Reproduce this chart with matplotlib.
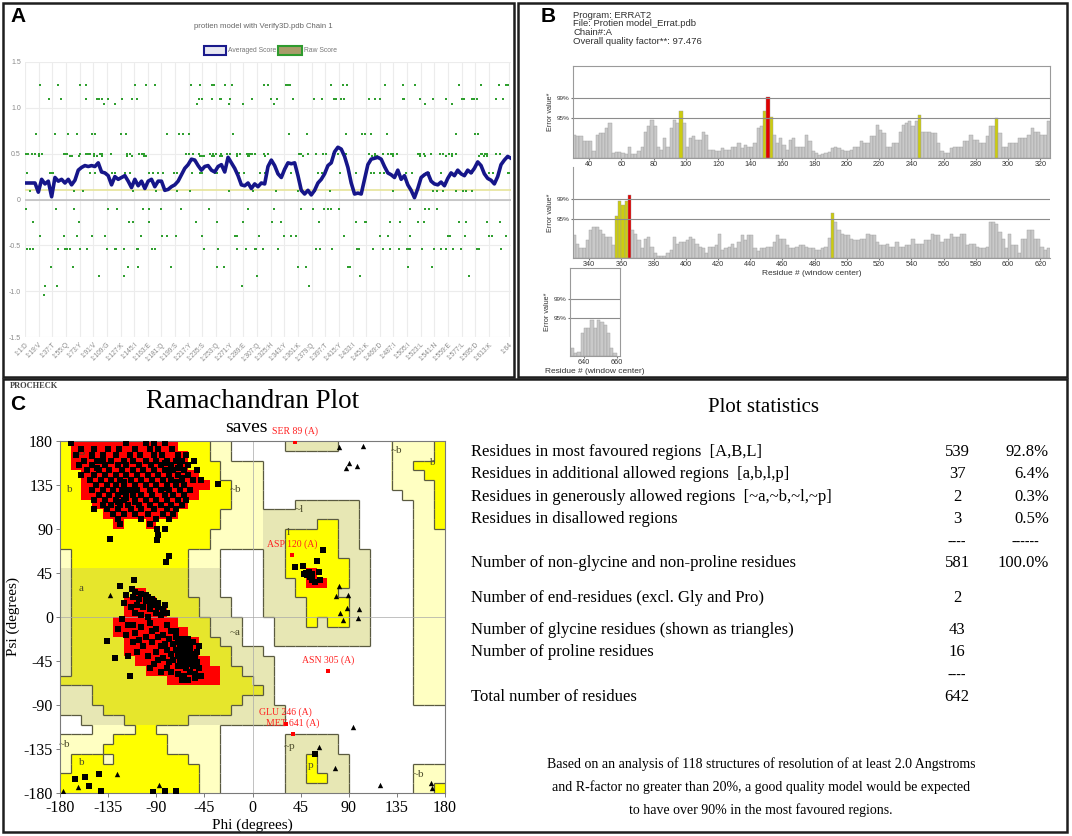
import numpy as np
import matplotlib.pyplot as plt
from matplotlib.patches import Rectangle
from matplotlib.collections import LineCollection
from matplotlib.colors import to_rgb

plt.rcParams['axes.unicode_minus'] = False
SERIF = 'Liberation Serif'
SANS = 'Liberation Sans'
W, H = 1072, 836

# ---------------- A : Verify3D ----------------
a_tick_labels = ["1:1:D", "1:19:V", "1:37:T", "1:55:Q", "1:73:Y", "1:91:V", "1:109:G", "1:127:K",
                 "1:145:I", "1:163:E", "1:181:Q", "1:199:S", "1:217:Y", "1:235:S", "1:253:Q", "1:271:Y",
                 "1:289:E", "1:307:Q", "1:325:H", "1:343:Y", "1:361:K", "1:379:Q", "1:397:T", "1:415:Y",
                 "1:433:I", "1:451:K", "1:469:D", "1:487:I", "1:505:I", "1:523:L", "1:541:N", "1:559:E",
                 "1:577:L", "1:595:D", "1:613:K", "1:64"]
a_tick_res = [1, 19, 37, 55, 73, 91, 109, 127, 145, 163, 181, 199, 217, 235, 253, 271, 289, 307,
              325, 343, 361, 379, 397, 415, 433, 451, 469, 487, 505, 523, 541, 559, 577, 595, 613, 640]

avg_score = [.18, .18, .18, .18, .08, .22, .17, .20, .03, .24,
             .20, .22, .18, .22, .16, .21, .32, .35, .37, .36,
             .37, .36, .40, .30, .29, .26, .16, .25, .22, .24,
             .26, .20, .13, .22, .15, .20, .12, .20, .22, .14,
             .20, .20, .10, .11, .14, .16, .20, .27, .34, .38,
             .44, .43, .37, .32, .36, .37, .32, .30, .36, .38,
             .30, .46, .40, .34, .26, .16, .15, .18, .12, .17,
             .14, .18, .17, .36, .43, .37, .28, .24, .33, .40,
             .39, .40, .26, .10, .06, .10, .05, .10, .18, .22,
             .28, .37, .40, .52, .57, .55, .47, .35, .18, .06,
             .07, .06, .22, .38, .44, .45, .46, .44, .36, .29,
             .27, .24, .32, .22, .26, .16, .10, .02, .12, .24,
             .27, .29, .20, .17, .16, .19, .15, .23, .29, .26,
             .32, .28, .26, .32, .29, .34, .41, .37, .28, .23,
             .21, .17, .25, .38, .43, .47, .45]

raw_levels = [1.25, 1.10, 1.04, 0.71, 0.50, 0.47, 0.29, 0.09, -0.10, -0.25, -0.40, -0.54,
              -0.74, -0.83, -0.94, -1.04]
raw_res = [
    [21, 45, 73, 81, 146, 160, 172, 220, 232, 247, 250, 265, 274, 316, 322, 345, 348, 351, 404, 420,
     426, 476, 499, 515, 573, 602, 626, 635, 638],
    [33, 49, 82, 96, 99, 102, 111, 129, 142, 149, 231, 234, 248, 258, 260, 271, 300, 325, 333, 354,
     382, 393, 409, 411, 418, 422, 455, 462, 469, 499, 501, 522, 539, 556, 577, 580, 590, 593, 597,
     622, 632],
    [105, 120, 228, 270, 289, 329, 529, 564],
    [16, 41, 58, 69, 89, 93, 127, 134, 188, 204, 209, 217, 275, 349, 373, 425, 446, 449, 458, 478,
     570, 595, 598],
    [2, 5, 10, 14, 20, 23, 52, 54, 56, 73, 81, 84, 87, 92, 100, 102, 115, 135, 139, 152, 155, 158,
     214, 217, 222, 231, 245, 249, 253, 260, 267, 271, 281, 284, 294, 296, 298, 300, 305, 316, 322,
     363, 365, 374, 385, 394, 398, 407, 414, 425, 455, 463, 473, 480, 484, 486, 491, 519, 522, 527,
     537, 548, 552, 560, 564, 570, 602, 604, 608, 611, 622, 627],
    [20, 60, 63, 72, 92, 96, 102, 135, 142, 158, 160, 232, 234, 237, 247, 250, 258, 261, 280, 295,
     296, 318, 368, 459, 462, 465, 486, 522, 528, 556, 564, 600, 606, 610],
    [3, 34, 36, 38, 70, 87, 93, 108, 116, 120, 133, 139, 164, 170, 177, 183, 197, 201, 209, 221, 232,
     235, 251, 254, 283, 290, 311, 317, 341, 352, 387, 393, 416, 428, 437, 458, 461, 469, 475, 494,
     503, 512, 530, 534, 550, 574, 582, 591, 613, 618, 638, 640],
    [8, 66, 77, 144, 174, 201, 218, 270, 302, 332, 361, 383, 403, 486, 512, 539, 545, 552, 570, 579,
     583, 591],
    [2, 42, 66, 111, 123, 156, 164, 181, 207, 244, 295, 330, 365, 381, 396, 401, 405, 415, 509, 528,
     534, 545],
    [11, 72, 138, 143, 164, 226, 254, 289, 327, 338, 389, 438, 449, 451, 482, 495, 519, 527, 574, 583,
     611, 627],
    [21, 52, 70, 89, 106, 154, 182, 188, 200, 234, 278, 281, 310, 342, 352, 359, 422, 469, 480, 509,
     559, 562, 581, 613, 617, 635],
    [4, 7, 12, 45, 54, 56, 61, 73, 83, 109, 120, 121, 131, 149, 150, 168, 172, 237, 256, 280, 292,
     304, 306, 315, 335, 385, 390, 406, 439, 441, 460, 473, 482, 494, 505, 506, 509, 525, 541, 550,
     556, 565, 576, 597, 600, 629],
    [35, 64, 137, 150, 194, 254, 263, 361, 371, 427, 429, 506, 538],
    [99, 132, 307, 443, 586],
    [27, 43, 287, 376],
    [26],
]

# ---------------- B : ERRAT ----------------
errat_info = ["Program: ERRAT2", "File: Protien model_Errat.pdb", "Chain#:A",
              "Overall quality factor**: 97.476"]
errat_top_start, errat_mid_start, errat_bot_start = 30, 330, 632
errat_top = [6.7, 6.2, 6.2, 4.8, 4.8, 4.8, 1.9, 6.7, 7.2, 7.2, 8.6, 10.0, 1.5, 1.6, 1.6, 1.4, 1.2, 3.3, 1.2, 1.2,
             1.9, 3.3, 7.6, 9.1, 11.0, 9.1, 3.3, 2.4, 5.7, 3.3, 8.6, 11.0, 10.0, 13.4, 10.0, 3.3, 5.7, 6.2, 5.3, 5.3,
             7.6, 6.7, 2.4, 2.4, 1.9, 1.9, 2.9, 2.4, 2.4, 3.3, 3.3, 4.3, 2.9, 3.8, 3.3, 3.3, 4.3, 8.6, 9.1, 13.4,
             17.4, 11.7, 6.7, 4.3, 5.7, 3.8, 2.4, 5.3, 5.7, 3.3, 3.3, 3.3, 6.7, 4.8, 1.9, 1.4, 1.0, 1.2, 1.4, 1.6,
             2.9, 3.3, 2.9, 2.4, 1.9, 1.9, 2.4, 3.3, 3.3, 4.8, 4.3, 4.3, 6.2, 6.2, 9.6, 8.1, 7.2, 3.3, 3.3, 4.3,
             4.3, 7.6, 9.6, 10.0, 10.5, 9.1, 10.5, 12.4, 7.6, 7.6, 7.6, 7.2, 7.2, 4.3, 1.9, 1.4, 1.4, 2.9, 3.3, 3.3,
             3.3, 4.8, 4.8, 6.7, 5.3, 5.3, 4.3, 4.3, 6.2, 9.1, 9.1, 11.5, 7.2, 3.3, 3.3, 4.3, 4.3, 4.3, 5.7, 5.7,
             5.7, 6.7, 8.6, 7.6, 7.6, 6.7, 6.7, 10.5]
errat_mid = [6.6, 4.2, 2.8, 2.8, 5.2, 8.0, 8.9, 8.9, 8.0, 7.1, 6.1, 6.1, 3.8, 12.2, 16.5, 15.5, 16.6, 18.3, 8.0, 7.1,
             5.2, 2.8, 5.6, 6.1, 3.3, 1.4, 0.5, 0.5, 0.5, 1.4, 2.4, 6.1, 4.2, 4.7, 4.7, 5.2, 6.1, 5.6, 4.2, 3.3,
             2.8, 1.4, 3.3, 3.3, 3.8, 7.1, 2.4, 2.8, 3.3, 4.2, 2.8, 4.7, 6.6, 5.2, 6.6, 6.6, 2.8, 1.9, 2.8, 2.8,
             3.3, 3.3, 4.7, 6.6, 5.6, 5.6, 3.8, 2.8, 2.8, 3.3, 3.8, 3.8, 3.3, 2.8, 2.8, 2.4, 2.4, 2.8, 3.3, 5.9,
             13.1, 10.3, 8.0, 7.1, 6.6, 6.6, 5.6, 5.2, 5.2, 5.6, 5.6, 7.1, 6.6, 6.6, 4.7, 3.8, 3.8, 4.2, 3.3, 3.3,
             4.7, 3.3, 3.3, 3.8, 3.8, 5.6, 4.2, 4.2, 4.2, 5.2, 5.2, 7.1, 6.6, 6.6, 4.7, 5.6, 5.6, 7.1, 6.1, 6.1,
             7.1, 7.1, 3.8, 4.2, 4.2, 3.3, 2.8, 2.8, 3.3, 10.3, 10.3, 10.0, 7.5, 5.6, 2.8, 7.1, 3.8, 3.8, 1.4, 5.6,
             5.6, 8.0, 8.0, 5.6, 5.6, 3.3, 2.4, 2.8]
errat_bot = [2.3, 1.0, 1.2, 6.8, 8.3, 8.5, 10.9, 8.3, 10.7, 10.3, 9.3, 6.8, 2.3, 1.0]
limit95, limit99 = 11.36, 17.19

# ---------------- C : Ramachandran ----------------
# 10-degree cells, rows from psi 180 down to -180, runs from phi -180 to 180
# R core, Y allowed, y allowed (shaded band), C generous, K generous (shaded), W disallowed
rama_regions = [
    "Y1 R10 Y3 C2 W5 K5 W5 C4 Y1",
    "Y1 R11 Y2 C2 W15 C4 Y1",
    "Y1 R11 Y3 C4 W12 C2 Y3",
    "Y2 R11 Y2 C4 W12 C3 Y2",
    "Y2 R12 Y2 C3 W12 C4 Y1",
    "Y2 R11 Y3 C3 W13 C3 Y1",
    "Y3 R9 Y4 C3 W3 K6 W5 C2 Y1",
    "Y4 R7 Y4 C4 K9 W5 C2 Y1",
    "Y5 R1 Y2 R1 Y6 C4 K5 Y2 K2 W5 C2 Y1",
    "Y14 C5 K2 Y5 K2 W5 C3",
    "Y14 C5 K2 Y5 K2 W5 C3",
    "C1 Y11 C3 W4 K2 Y5 K3 W4 C3",
    "C1 Y11 C3 W4 K2 Y6 K2 W4 C3",
    "K1 y11 K3 W4 K2 Y2 R1 Y3 K2 W4 C3",
    "K1 y11 K3 W4 K3 Y1 R2 Y2 K2 W4 C3",
    "K1 y6 R1 y4 K3 W4 K3 Y4 K3 W4 C3",
    "K1 y5 R3 y4 K3 W3 K4 Y4 K2 W4 C3",
    "K1 y5 R4 y3 K3 W3 K4 Y4 K2 W4 C3",
    "K1 y4 R6 y3 K3 W3 K3 Y1 K1 Y2 K2 W4 C3",
    "K1 y4 R7 y2 K3 W3 K9 W4 C3",
    "K1 y5 R7 y2 K2 W3 K9 W4 C3",
    "K1 y5 R7 y3 K3 W14 C3",
    "K1 y6 R7 y2 K4 W13 C3",
    "K1 y7 R7 y2 K3 W13 C3",
    "y10 R5 y3 K2 W13 C3",
    "K3 y16 K1 W13 C3",
    "K3 y14 K3 W13 C3",
    "K4 y12 K5 W15",
    "W2 K4 y6 K9 W15",
    "W3 C4 Y2 C6 W21",
    "C5 Y5 C5 W6 K5 W10",
    "C4 Y6 C5 W6 K5 W10",
    "C1 Y3 C1 Y7 C3 W6 K2 Y1 K3 W9",
    "C1 Y12 C2 W6 K2 Y1 K3 W6 C3",
    "Y13 C2 W6 K2 Y2 K2 W6 C3",
    "Y13 C2 W6 K6 W6 C2 Y1",
]
region_labels = [("B", -160, 168), ("b", -171, 130), ("a", -160, 29), ("~b", -16, 130), ("~a", -16, -16),
                 ("~l", 44, 110), ("l", 34, 86), ("~p", 35, -132), ("p", 54, -152), ("~b", 135, 170),
                 ("b", 169, 158), ("~b", -176, -130), ("b", -160, -149), ("~b", 155, -161)]

nongly_pts = [
    # beta region
    (-170, 178), (-118, 178), (-100, 178), (-92, 178), (-82, 178),
    (-160, 172), (-148, 172), (-135, 172), (-125, 172), (-110, 172), (-96, 172), (-88, 172), (-75, 172),
    (-165, 166), (-150, 166), (-140, 166), (-128, 166), (-115, 166), (-105, 166), (-92, 166), (-85, 166),
    (-70, 166), (-62, 166),
    (-158, 160), (-145, 160), (-132, 160), (-120, 160), (-112, 160), (-100, 160), (-90, 160), (-80, 160),
    (-72, 160), (-66, 160), (-55, 160),
    (-162, 155), (-150, 155), (-138, 155), (-126, 155), (-118, 155), (-106, 155), (-95, 155), (-86, 155),
    (-76, 155), (-68, 155), (-60, 155),
    (-155, 150), (-144, 150), (-134, 150), (-122, 150), (-112, 150), (-102, 150), (-92, 150), (-82, 150),
    (-74, 150), (-64, 150), (-52, 150),
    (-160, 145), (-148, 145), (-138, 145), (-128, 145), (-118, 145), (-108, 145), (-98, 145), (-88, 145),
    (-78, 145), (-70, 145), (-60, 145),
    (-152, 140), (-142, 140), (-132, 140), (-124, 140), (-114, 140), (-104, 140), (-94, 140), (-84, 140),
    (-76, 140), (-66, 140), (-56, 140), (-48, 140),
    (-146, 135), (-136, 135), (-128, 135), (-120, 135), (-110, 135), (-100, 135), (-90, 135), (-80, 135),
    (-72, 135), (-64, 135),
    (-150, 130), (-140, 130), (-130, 130), (-122, 130), (-116, 130), (-108, 130), (-96, 130), (-86, 130),
    (-78, 130), (-68, 130), (-58, 130),
    (-144, 125), (-134, 125), (-126, 125), (-118, 125), (-112, 125), (-104, 125), (-94, 125), (-82, 125),
    (-74, 125), (-64, 125),
    (-148, 120), (-138, 120), (-128, 120), (-120, 120), (-110, 120), (-100, 120), (-90, 120), (-80, 120),
    (-70, 120), (-62, 120),
    (-140, 115), (-132, 115), (-124, 115), (-116, 115), (-106, 115), (-96, 115), (-86, 115), (-76, 115),
    (-66, 115),
    (-148, 110), (-136, 110), (-126, 110), (-114, 110), (-104, 110), (-92, 110), (-80, 110), (-72, 110),
    (-130, 105), (-120, 105), (-110, 105), (-98, 105), (-84, 105), (-74, 105),
    (-126, 100), (-104, 100), (-90, 100), (-78, 100), (-124, 95), (-96, 95),
    (-122, 128), (-118, 122), (-114, 130), (-126, 118), (-120, 138), (-110, 118), (-78, 148), (-72, 138),
    (-80, 132), (-76, 152), (-70, 152), (-66, 142), (-82, 157), (-140, 160), (-145, 152), (-150, 165),
    # alpha region
    (-118, 22), (-112, 20), (-106, 18), (-100, 16), (-96, 14), (-92, 12), (-88, 10), (-84, 8), (-80, 4),
    (-108, 12), (-102, 10), (-96, 8), (-90, 4), (-86, 2), (-110, 26), (-104, 24), (-98, 20), (-94, 18),
    (-100, 22), (-92, 16), (-88, 14), (-82, 12), (-120, 14), (-114, 10), (-110, 4), (-104, 2), (-98, 0),
    (-122, -2), (-116, -8), (-126, -12), (-118, -18), (-110, -16), (-104, -10), (-96, -6), (-90, -12),
    (-84, -18), (-80, -8), (-76, -14), (-72, -20), (-70, -26), (-66, -30), (-64, -34), (-62, -38),
    (-60, -42), (-58, -46), (-56, -50), (-68, -36), (-66, -40), (-64, -44), (-60, -36), (-58, -32),
    (-56, -38), (-54, -42), (-52, -46), (-70, -40), (-68, -46), (-66, -50), (-62, -52), (-58, -56),
    (-72, -34), (-74, -28), (-76, -38), (-78, -46), (-80, -52), (-84, -42), (-86, -30), (-90, -36),
    (-94, -26), (-98, -40), (-102, -30), (-108, -36), (-112, -26), (-116, -40), (-92, -48), (-86, -56),
    (-76, -56), (-70, -58), (-64, -60), (-54, -58), (-50, -52), (-52, -36), (-50, -30), (-56, -26),
    (-60, -22), (-64, -24), (-62, -30), (-60, -28), (-68, -28), (-66, -22), (-72, -14), (-78, -22),
    (-82, -28), (-88, -20), (-94, -14), (-100, -20), (-106, -24), (-112, -8), (-62, -44), (-60, -48),
    (-64, -40), (-66, -36), (-58, -40), (-56, -44), (-70, -50), (-74, -44), (-48, -60), (-54, -62),
    (-60, -64), (-66, -64), (-80, -34), (-88, -44), (-96, -52),
    # scattered
    (-32, 136), (-133, 80), (-78, 62), (-81, 56), (-89, 90), (-82, 90), (-88, 84), (-89, 79),
    (-136, -25), (-129, -42), (-115, -60), (-124, 32), (-111, 38), (-113, 29),
    (-166, -166), (-157, -164), (-144, -161), (-153, -173), (-142, -178), (-93, -179), (-82, -178),
    (-72, -178),
    # left-handed region
    (40, 51), (47, 52), (60, 57), (66, 69), (48, 44), (51, 43), (54, 41), (56, 38), (58, 36), (53, 46),
    (62, 46), (50, 45), (63, 38), (56, 44), (58, -140),
]
gly_pts = [(81, 174), (103, 175), (90, 158), (87, 152), (98, 154), (94, -112), (77, -154), (62, -133),
           (119, -172), (167, -170), (168, -175), (-133, 22), (-127, -161), (-163, -174), (-177, -178),
           (-87, -172), (89, 22), (100, 8), (99, -1), (85, -3), (78, 21), (81, 32), (88, 9), (82, 4)]
outlier_names = ["SER 89 (A)", "ASP 120 (A)", "ASN 305 (A)", "GLU 246 (A)", "MET 641 (A)"]
outlier_phi = [40, 37, 71, 31, 38]
outlier_psi = [179, 63, -55, -109, -120]

stats_labels = ["Residues in most favoured regions  [A,B,L]",
                "Residues in additional allowed regions  [a,b,l,p]",
                "Residues in generously allowed regions  [~a,~b,~l,~p]",
                "Residues in disallowed regions",
                "Number of non-glycine and non-proline residues",
                "Number of end-residues (excl. Gly and Pro)",
                "Number of glycine residues (shown as triangles)",
                "Number of proline residues",
                "Total number of residues"]
stats_counts = ["539", "37", "2", "3", "581", "2", "43", "16", "642"]
stats_pcts = ["92.8%", "6.4%", "0.3%", "0.5%", "100.0%", "", "", "", ""]
stats_note = ["Based on an analysis of 118 structures of resolution of at least 2.0 Angstroms",
              "and R-factor no greater than 20%, a good quality model would be expected",
              "to have over 90% in the most favoured regions."]


def px_box(x0, y0, x1, y1):
    return [x0 / W, 1 - y1 / H, (x1 - x0) / W, (y1 - y0) / H]


fig = plt.figure(figsize=(W / 100, H / 100), dpi=100)

# ---- panel A ----
axA = fig.add_axes(px_box(25, 62, 511, 337))
axA.set_xlim(1, 642)
axA.set_ylim(-1.5, 1.5)
for s in axA.spines.values():
    s.set_visible(False)
axA.set_xticks(a_tick_res)
axA.set_xticklabels(a_tick_labels, rotation=45, ha='right', va='top', rotation_mode='anchor',
                    fontsize=4.8, color='#8a8a8a', family=SANS)
axA.set_yticks([-1.5, -1.0, -0.5, 0, 0.5, 1.0, 1.5])
axA.set_yticklabels(['-1.5', '-1.0', '-0.5', '0', '0.5', '1.0', '1.5'], fontsize=5, color='#8a8a8a',
                    family=SANS)
axA.tick_params(length=0, pad=3)
axA.grid(True, color='#ececec', lw=0.8)
axA.set_axisbelow(True)
axA.axhline(0, color='#bdbdbd', lw=1.1, zorder=1)
axA.axhline(0.1, color='#e6e49a', lw=1.2, zorder=1)
for lvl, xs in zip(raw_levels, raw_res):
    axA.scatter(xs, [lvl] * len(xs), s=4, marker='s', color='#2f9f2f', linewidths=0, zorder=2)
avg_res = np.linspace(1, 642, len(avg_score))
axA.plot(avg_res, avg_score, color='#16168a', lw=2.6, zorder=3)

# ---- panel B ----
def errat_strip(rect, start, vals, xlim, xticks, full_box):
    ax = fig.add_axes(px_box(*rect))
    xs = start + 1 + 2 * np.arange(len(vals))
    cols = ['#e00000' if v >= limit99 else '#cccc10' if v >= limit95 else '#c9c9c9' for v in vals]
    ax.bar(xs, vals, width=2, color=cols, edgecolor='#9c9c9c', linewidth=0.3)
    ax.axhline(limit95, color='#8c8c8c', lw=0.8)
    ax.axhline(limit99, color='#8c8c8c', lw=0.8)
    ax.set_xlim(*xlim)
    ax.set_ylim(0, 26.4)
    ax.set_yticks([limit95, limit99])
    ax.set_yticklabels(['95%', '99%'], fontsize=4.6, family=SANS, color='#333333')
    ax.set_xticks(xticks)
    ax.set_xticklabels([str(t) for t in xticks], fontsize=5.2, family=SANS, color='#333333')
    ax.tick_params(length=1.5, pad=1, color='#777777')
    ax.set_ylabel('Error value*', fontsize=5.2, family=SANS, labelpad=2, color='#333333')
    for k, s in ax.spines.items():
        s.set_color('#9a9a9a')
        s.set_linewidth(0.8)
        if not full_box and k in ('top', 'right'):
            s.set_visible(False)
    return ax


errat_strip((573, 66, 1050, 158), errat_top_start, errat_top, (30, 326), list(range(40, 321, 20)), True)
axM = errat_strip((573, 167, 1050, 258), errat_mid_start, errat_mid, (330, 626), list(range(340, 621, 20)), False)
axM.set_xlabel('Residue # (window center)', fontsize=6, family=SANS, labelpad=1, color='#333333')
axL = errat_strip((570, 268, 620, 356), errat_bot_start, errat_bot, (631.5, 662), [640, 660], True)
axL.set_xlabel('Residue # (window center)', fontsize=6, family=SANS, labelpad=1, color='#333333')

# ---- panel C : Ramachandran ----
code_colors = {'R': '#ff0000', 'Y': '#ffff00', 'y': '#e6e62c', 'C': '#ffffc2', 'K': '#e7e7b4', 'W': '#ffffff'}
code_level = {'R': 3, 'Y': 2, 'y': 2, 'C': 1, 'K': 1, 'W': 0}
grid = []
for row in rama_regions:
    cells = []
    for tok in row.split():
        cells += [tok[0]] * int(tok[1:])
    grid.append(cells[:36])
rgb = np.array([[to_rgb(code_colors[c]) for c in r] for r in grid])

axR = fig.add_axes(px_box(60, 441, 445, 793))
axR.imshow(rgb, extent=(-180, 180, -180, 180), aspect='auto', interpolation='nearest', zorder=0)
segs = []
n = len(grid)
for r in range(n):
    for c in range(36):
        a = code_level[grid[r][c]]
        if c < 35:
            b = code_level[grid[r][c + 1]]
            if a != b and max(a, b) < 3:
                x = -170 + 10 * c
                segs.append([(x, 170 - 10 * r), (x, 180 - 10 * r)])
        if r < n - 1:
            b = code_level[grid[r + 1][c]]
            if a != b and max(a, b) < 3:
                y = 170 - 10 * r
                segs.append([(-180 + 10 * c, y), (-170 + 10 * c, y)])
axR.add_collection(LineCollection(segs, colors='#5a5a40', linewidths=0.9, zorder=1))
axR.axhline(0, color='#a8a8a8', lw=0.5, zorder=1.5)
axR.axvline(0, color='#a8a8a8', lw=0.5, zorder=1.5)
for txt, ph, ps in region_labels:
    axR.text(ph, ps, txt, fontsize=8, family=SERIF, color='#4a4a2a', ha='center', va='center', zorder=2)

axR.scatter([p[0] for p in nongly_pts], [p[1] for p in nongly_pts], s=14, marker='s', color='black',
            linewidths=0, zorder=3)
axR.scatter([p[0] for p in gly_pts], [p[1] for p in gly_pts], s=15, marker='^', color='black',
            linewidths=0, zorder=3)
axR.scatter(outlier_phi, outlier_psi, s=12, marker='s', color='#ff0000', linewidths=0, zorder=4)
for name, ph, ps in zip(outlier_names, outlier_phi, outlier_psi):
    axR.annotate(name, (ph, ps), xytext=(0, 4.5), textcoords='offset points', ha='center', va='bottom',
                 fontsize=7, family=SERIF, color='#ff2020', zorder=5, annotation_clip=False)

axR.set_xlim(-180, 180)
axR.set_ylim(-180, 180)
ticks = list(range(-180, 181, 45))
axR.set_xticks(ticks)
axR.set_yticks(ticks)
axR.set_xticklabels([str(t) for t in ticks], fontsize=11.5, family=SERIF)
axR.set_yticklabels([str(t) for t in ticks], fontsize=11.5, family=SERIF)
axR.tick_params(length=3, width=0.6, color='#666666', pad=2)
for s in axR.spines.values():
    s.set_color('#7a7a7a')
    s.set_linewidth(0.8)
axR.set_xlabel('Phi (degrees)', fontsize=11, family=SERIF, labelpad=2)
axR.set_ylabel('Psi (degrees)', fontsize=11, family=SERIF, labelpad=3)

# ---- overlay : frames and free text ----
ov = fig.add_axes([0, 0, 1, 1], zorder=10)
ov.set_xlim(0, W)
ov.set_ylim(H, 0)
ov.axis('off')
for (x0, y0, x1, y1) in [(3, 3, 514, 377), (518, 3, 1067, 377), (3, 379, 1067, 832)]:
    ov.add_patch(Rectangle((x0, y0), x1 - x0, y1 - y0, fill=False, ec='#1e1e1e', lw=1.8))
for lab, x, y in [('A', 10, 17), ('B', 541, 17), ('C', 10, 405)]:
    ov.text(x, y, lab, fontsize=15, weight='bold', family=SANS, va='center', ha='left')

ov.text(263, 26, 'protien model with Verify3D.pdb Chain 1', fontsize=5.6, color='#666666', family=SANS,
        ha='center', va='center')
ov.add_patch(Rectangle((204, 46), 22, 9, fc='#e8e8f2', ec='#1a1a8c', lw=1.5))
ov.text(228, 50.5, 'Averaged Score', fontsize=4.9, color='#777777', family=SANS, va='center')
ov.add_patch(Rectangle((278, 46), 24, 9, fc='#a89c6a', ec='#2e9b2e', lw=1.5))
ov.text(304, 50.5, 'Raw Score', fontsize=4.9, color='#777777', family=SANS, va='center')

for i, line in enumerate(errat_info):
    ov.text(573, 15 + 8.7 * i, line, fontsize=6.8, family=SANS, color='#303030', va='center')

ov.text(10, 386, 'PROCHECK', fontsize=6, weight='bold', family=SERIF, color='#444444', va='center')
ov.text(253, 402, 'Ramachandran Plot', fontsize=19.5, family=SERIF, ha='center', va='center')
ov.text(246, 428, 'saves', fontsize=14, family=SERIF, ha='center', va='center')

ov.text(763, 408, 'Plot statistics', fontsize=15, family=SERIF, ha='center', va='center')
row_y = [452, 474, 497, 519, 563, 598, 630, 652, 697]
for y, lab, cnt, pct in zip(row_y, stats_labels, stats_counts, stats_pcts):
    ov.text(471, y, lab, fontsize=12, family=SERIF, va='center')
    ov.text(957, y, cnt, fontsize=12, family=SERIF, va='center', ha='center')
    if pct:
        ov.text(1049, y, pct, fontsize=12, family=SERIF, va='center', ha='right')
ov.text(957, 542, '----', fontsize=10, family=SERIF, va='center', ha='center')
ov.text(1025, 542, '------', fontsize=10, family=SERIF, va='center', ha='center')
ov.text(957, 675, '----', fontsize=10, family=SERIF, va='center', ha='center')
for i, line in enumerate(stats_note):
    ov.text(761, 764 + 23 * i, line, fontsize=10, family=SERIF, va='center', ha='center')

fig.savefig('out.png', dpi=100)
